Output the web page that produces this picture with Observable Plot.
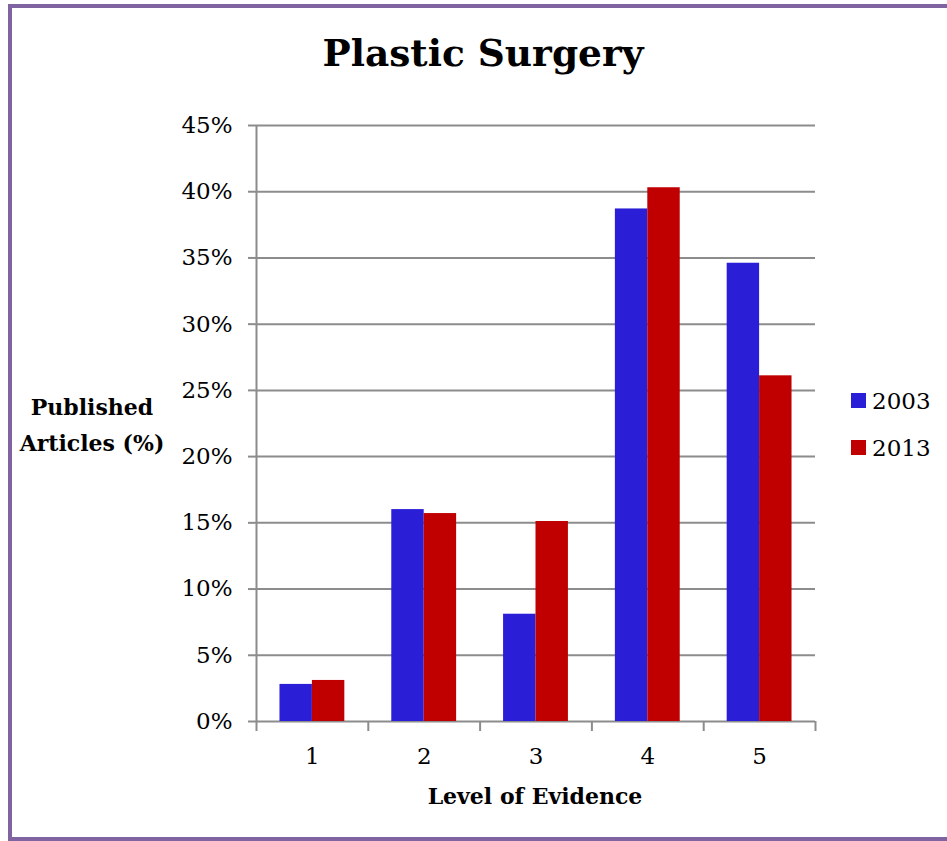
<!DOCTYPE html>
<html>
<head>
<meta charset="utf-8">
<script src="https://cdn.jsdelivr.net/npm/d3@7"></script>
<script src="https://cdn.jsdelivr.net/npm/@observablehq/plot@0.6"></script>
<style>
  html, body { margin: 0; padding: 0; background: #fff; overflow: hidden; }
  body { width: 947px; height: 841px; position: relative; font-family: "DejaVu Serif", serif; }
  #frame { position: absolute; left: 8px; top: 4px; width: 1000px; height: 829px;
           border: 4px solid #8064a2; background: #fff; }
  #chart { position: absolute; left: 0; top: 0; }
  .txt { position: absolute; white-space: nowrap; color: #000; }
  #title { left: 183px; width: 600px; text-align: center; font-weight: bold; font-size: 37.5px; line-height: 37.5px; top: 35px; }
  #ylab { left: 0px; width: 184px; text-align: center; font-weight: bold; font-size: 22px; line-height: 36px; top: 389px; }
  #xlab { left: 335px; width: 400px; text-align: center; font-weight: bold; font-size: 22px; line-height: 22px; top: 784.5px; }
  .leg { position: absolute; left: 851px; font-size: 23px; line-height: 23px; }
  .leg span.sw { position: absolute; left: 0; width: 15px; height: 15px; }
  .leg span.lb { position: absolute; left: 21px; white-space: nowrap; }
</style>
</head>
<body>
<div id="frame"></div>
<div id="chart"></div>
<div class="txt" id="title">Plastic Surgery</div>
<div class="txt" id="ylab">Published<br>Articles (%)</div>
<div class="txt" id="xlab">Level of Evidence</div>
<div id="legend"></div>
<script>
// ---- data ----
const levels = [1, 2, 3, 4, 5];
const years = ["2003", "2013"];
const values2003 = [2.8, 16.0, 8.1, 38.7, 34.6];
const values2013 = [3.1, 15.7, 15.1, 40.3, 26.1];
const yTicks = [0, 5, 10, 15, 20, 25, 30, 35, 40, 45];
const bandEdges = [0.5, 1.5, 2.5, 3.5, 4.5, 5.5];
const colors = ["#2a1fd6", "#c00000"];

const barW = 0.29; // bar width as a fraction of one category
const data = [];
levels.forEach((lv, i) => {
  data.push({level: lv, year: years[0], value: values2003[i]});
  data.push({level: lv, year: years[1], value: values2013[i]});
});

const gray = "#8c8c8c";
const chart = Plot.plot({
  width: 947,
  height: 841,
  marginLeft: 256,
  marginRight: 132,
  marginTop: 125,
  marginBottom: 120,
  style: {fontFamily: "DejaVu Serif", fontSize: "23px", background: "transparent", color: "#000"},
  x: {domain: [0.5, 5.5], axis: null},
  y: {domain: [0, 45], axis: null},
  color: {domain: years, range: colors},
  marks: [
    Plot.gridY(yTicks, {stroke: gray, strokeOpacity: 1, strokeWidth: 2}),
    Plot.axisY(yTicks, {tickSize: 8, tickPadding: 16, stroke: gray, strokeWidth: 2, fill: "#000",
      fontSize: 23, tickFormat: d => d + "%", label: null}),
    Plot.ruleX([0.5], {stroke: gray, strokeWidth: 2}),
    Plot.rectY(data, {
      x1: d => d.year === years[0] ? d.level - barW : d.level,
      x2: d => d.year === years[0] ? d.level : d.level + barW,
      y1: 0,
      y2: "value",
      fill: "year",
      style: "filter: drop-shadow(1.5px 1.5px 1.5px rgba(0,0,0,0.25))"
    }),
    Plot.axisX(bandEdges, {tickSize: 10, stroke: gray, strokeWidth: 2, tickFormat: () => "", label: null}),
    Plot.axisX(levels, {tickSize: 0, tickPadding: 26, fontSize: 23, fill: "#000", label: null})
  ]
});
document.getElementById("chart").appendChild(chart);

// legend
const legend = document.getElementById("legend");
years.forEach((y, i) => {
  const row = document.createElement("div");
  row.className = "leg";
  row.style.top = (393 + i * 47) + "px";
  row.innerHTML = `<span class="sw" style="background:${colors[i]}"></span><span class="lb" style="top:-3px">${y}</span>`;
  legend.appendChild(row);
});
</script>
</body>
</html>
